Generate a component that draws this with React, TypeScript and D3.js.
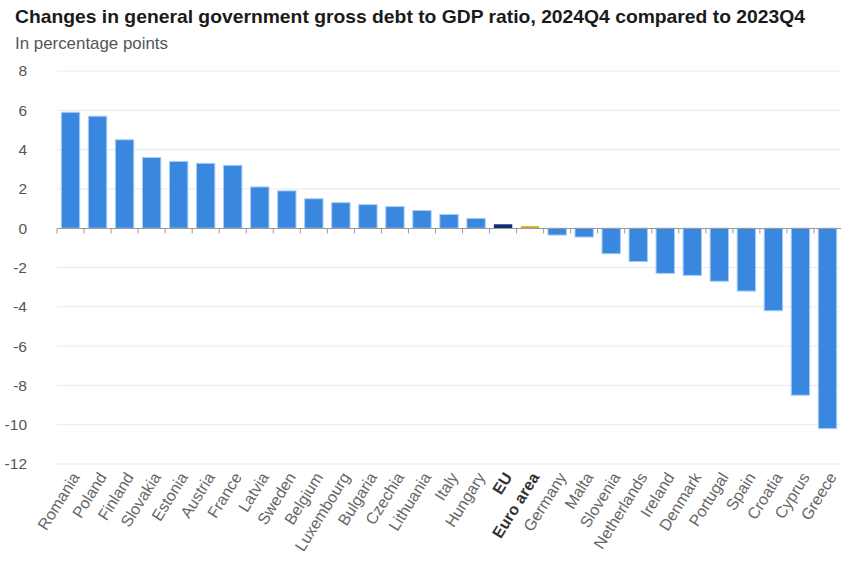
import { useEffect, useRef } from "react";
import * as d3 from "d3";

const countries = [
  "Romania", "Poland", "Finland", "Slovakia", "Estonia", "Austria", "France",
  "Latvia", "Sweden", "Belgium", "Luxembourg", "Bulgaria", "Czechia", "Lithuania",
  "Italy", "Hungary", "EU", "Euro area", "Germany", "Malta", "Slovenia",
  "Netherlands", "Ireland", "Denmark", "Portugal", "Spain", "Croatia", "Cyprus", "Greece",
];
const changes = [
  5.9, 5.7, 4.5, 3.6, 3.4, 3.3, 3.2,
  2.1, 1.9, 1.5, 1.3, 1.2, 1.1, 0.9,
  0.7, 0.5, 0.2, 0.1, -0.35, -0.45, -1.3,
  -1.7, -2.3, -2.4, -2.7, -3.2, -4.2, -8.5, -10.2,
];
const yTicks = [8, 6, 4, 2, 0, -2, -4, -6, -8, -10, -12];
const aggregates = ["EU", "Euro area"];

const title = "Changes in general government gross debt to GDP ratio, 2024Q4 compared to 2023Q4";
const subtitle = "In percentage points";

const W = 848;
const H = 562;
const margin = { top: 71, right: 7, bottom: 98, left: 57 };

const barColor = (name: string) => {
  if (name === "EU") return "#0e2f78";
  if (name === "Euro area") return "#d6a516";
  return "#3a87e0";
};

const App = () => {
  const ref = useRef<SVGSVGElement | null>(null);

  useEffect(() => {
    if (!ref.current) return;
    const svg = d3.select(ref.current);
    svg.selectAll("*").remove();

    const font = "'Liberation Sans', Arial, sans-serif";

    const x = d3.scaleBand<string>()
      .domain(countries)
      .range([margin.left, W - margin.right])
      .paddingInner(0.32)
      .paddingOuter(0.16);
    const y = d3.scaleLinear().domain([-12, 8]).range([H - margin.bottom, margin.top]);

    // titles
    svg.append("text")
      .attr("x", 15).attr("y", 23)
      .attr("font-family", font).attr("font-size", 19).attr("font-weight", "bold")
      .attr("fill", "#1a1a1a")
      .attr("textLength", 790).attr("lengthAdjust", "spacingAndGlyphs")
      .text(title);
    svg.append("text")
      .attr("x", 15).attr("y", 49)
      .attr("font-family", font).attr("font-size", 17)
      .attr("fill", "#555")
      .attr("textLength", 153).attr("lengthAdjust", "spacingAndGlyphs")
      .text(subtitle);

    // grid
    svg.append("g")
      .selectAll("line")
      .data(yTicks.filter(t => t !== 0))
      .join("line")
      .attr("x1", margin.left).attr("x2", W - margin.right)
      .attr("y1", d => y(d)).attr("y2", d => y(d))
      .attr("stroke", "#e6e9f0").attr("stroke-width", 1);

    // y labels
    svg.append("g")
      .selectAll("text")
      .data(yTicks)
      .join("text")
      .attr("x", 27).attr("y", d => y(d))
      .attr("dy", "0.35em")
      .attr("text-anchor", "end")
      .attr("font-family", font).attr("font-size", 15.5)
      .attr("fill", "#555")
      .text(d => d);

    // bars
    svg.append("g")
      .selectAll("rect")
      .data(countries)
      .join("rect")
      .attr("x", d => x(d)!)
      .attr("width", x.bandwidth())
      .attr("y", (d, i) => y(Math.max(0, changes[i])))
      .attr("height", (d, i) => Math.abs(y(changes[i]) - y(0)))
      .attr("fill", d => barColor(d))
      .attr("stroke", d => (aggregates.includes(d) ? "none" : "#a8cdf5"))
      .attr("stroke-width", 1);

    // zero axis line and ticks
    const y0 = Math.round(y(0)) + 0.5;
    svg.append("line")
      .attr("x1", margin.left).attr("x2", W - margin.right)
      .attr("y1", y0).attr("y2", y0)
      .attr("stroke", "#999").attr("stroke-width", 1);
    const step = x.step();
    svg.append("g")
      .selectAll("line")
      .data(countries)
      .join("line")
      .attr("x1", d => x(d)! + x.bandwidth() / 2 - step / 2)
      .attr("x2", d => x(d)! + x.bandwidth() / 2 - step / 2)
      .attr("y1", y0).attr("y2", y0 + 5)
      .attr("stroke", "#999").attr("stroke-width", 1);

    // x labels
    svg.append("g")
      .selectAll("text")
      .data(countries)
      .join("text")
      .attr("transform", d => `translate(${x(d)! + x.bandwidth() / 2 + 5},${H - margin.bottom + 10}) rotate(-58)`)
      .attr("text-anchor", "end")
      .attr("dy", "0.35em")
      .attr("font-family", font).attr("font-size", 16)
      .attr("font-weight", d => (aggregates.includes(d) ? "bold" : "normal"))
      .attr("fill", d => (aggregates.includes(d) ? "#333" : "#666"))
      .text(d => d);
  }, []);

  return (
    <svg
      ref={ref}
      width={W}
      height={H}
      style={{ position: "absolute", left: 0, top: 0, background: "#fff" }}
    />
  );
};

export default App;
